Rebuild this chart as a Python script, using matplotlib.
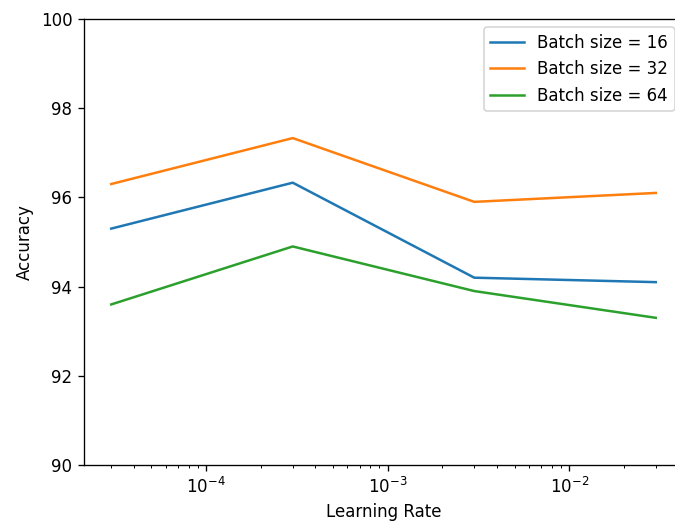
import matplotlib
matplotlib.use("Agg")
import matplotlib.pyplot as plt

learning_rates = [3e-5, 3e-4, 3e-3, 3e-2]
acc_bs16 = [95.3, 96.33, 94.2, 94.1]
acc_bs32 = [96.3, 97.33, 95.9, 96.1]
acc_bs64 = [93.6, 94.9, 93.9, 93.3]
series_labels = ["Batch size = 16", "Batch size = 32", "Batch size = 64"]

W, H = 675, 523
DPI = 120
fig = plt.figure(figsize=(W / DPI, H / DPI), dpi=DPI)
left, right, top, bottom = 84, 683, 19, 465
ax = fig.add_axes([left / W, (H - bottom) / H, (right - left) / W, (bottom - top) / H])

for vals, lab in zip([acc_bs16, acc_bs32, acc_bs64], series_labels):
    ax.plot(learning_rates, vals, label=lab)

ax.set_xscale("log")
ax.set_ylim(90, 100)
ax.set_xlabel("Learning Rate")
ax.set_ylabel("Accuracy")
ax.legend(loc="upper right")

fig.savefig("out.png", dpi=DPI)
